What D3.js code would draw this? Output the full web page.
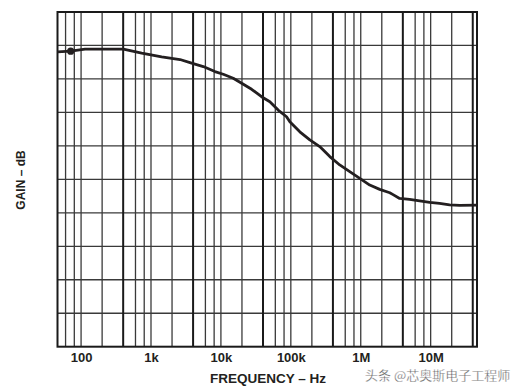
<!DOCTYPE html>
<html><head><meta charset="utf-8">
<script src="https://cdn.jsdelivr.net/npm/d3@7"></script>
<style>
html,body{margin:0;padding:0;background:#fff;}
svg{display:block;}
</style></head>
<body>
<svg id="chart" width="524" height="390"></svg>
<script>
// Frequency (Hz) of each curve point
const freq = [46, 71, 114, 402, 736, 1420, 2600, 3810, 5590, 8210, 10800, 15000, 19800, 27500, 38100, 50100, 65900, 86900, 96800, 134500, 187000, 259000, 361000, 501000, 696000, 968000, 1345000, 1868000, 2600000, 2860000, 3600000, 5000000, 6960000, 9680000, 13400000, 18700000, 26000000, 46000000];
// Gain, in grid divisions (axis has no numeric labels)
const gain = [8.81, 8.83, 8.89, 8.89, 8.77, 8.66, 8.58, 8.47, 8.37, 8.22, 8.14, 8.02, 7.87, 7.69, 7.47, 7.32, 7.07, 6.87, 6.72, 6.42, 6.18, 5.98, 5.68, 5.43, 5.23, 5.03, 4.83, 4.70, 4.60, 4.55, 4.43, 4.40, 4.36, 4.31, 4.28, 4.24, 4.22, 4.23];
// Marker point
const markerFreq = [71];
const markerGain = [8.83];
// Tick labels
const tickValues = [100, 1e3, 1e4, 1e5, 1e6, 1e7];
const tickLabels = ["100", "1k", "10k", "100k", "1M", "10M"];
// Vertical grid lines
const gridFreq = [60, 80, 100, 200, 400, 600, 800, 1e3, 2e3, 4e3, 6e3, 8e3, 1e4, 2e4, 4e4, 6e4, 8e4, 1e5, 2e5, 4e5, 6e5, 8e5, 1e6, 2e6, 4e6, 6e6, 8e6, 1e7, 2e7, 4e7];
const majorGridFreq = [400, 4e3, 4e4, 4e5, 4e6, 4e7];
// Horizontal grid lines (divisions)
const gridGain = [1, 2, 3, 4, 5, 6, 7, 8, 9];

const svg = d3.select("#chart");
const pLeft = 57.5, pRight = 477, pTop = 12, pBottom = 346.7;

const x = d3.scaleLog().domain([46, 4.6e7]).range([pLeft, pRight]);
const y = d3.scaleLinear().domain([0, 10]).range([pBottom, pTop]);

const g = svg.append("g");

// horizontal grid
g.selectAll("line.hg").data(gridGain).join("line")
  .attr("x1", pLeft).attr("x2", pRight)
  .attr("y1", d => y(d)).attr("y2", d => y(d))
  .attr("stroke", "#3a3a3a").attr("stroke-width", 1.3);

// vertical grid
g.selectAll("line.vg").data(gridFreq).join("line")
  .attr("x1", d => x(d)).attr("x2", d => x(d))
  .attr("y1", pTop).attr("y2", pBottom)
  .attr("stroke", d => majorGridFreq.includes(d) ? "#1a1a1a" : "#3a3a3a")
  .attr("stroke-width", d => majorGridFreq.includes(d) ? 2 : 1.3);

// frame
g.append("rect").attr("x", pLeft).attr("y", pTop)
  .attr("width", pRight - pLeft).attr("height", pBottom - pTop)
  .attr("fill", "none").attr("stroke", "#1a1a1a").attr("stroke-width", 2);

// x axis labels
const xAxis = d3.axisBottom(x).tickValues(tickValues)
  .tickFormat((d, i) => tickLabels[i]).tickSize(0).tickPadding(6);
const ax = svg.append("g").attr("transform", `translate(0,${pBottom})`).call(xAxis);
ax.select(".domain").remove();
ax.selectAll("text").attr("font-family", "Liberation Sans, Arial, sans-serif")
  .attr("font-size", 13).attr("font-weight", "bold").attr("fill", "#231f20");

// curve
const pts = freq.map((f, i) => [f, gain[i]]);
svg.append("path").datum(pts)
  .attr("d", d3.line().x(d => x(d[0])).y(d => y(d[1])))
  .attr("fill", "none").attr("stroke", "#231f20").attr("stroke-width", 2.8)
  .attr("stroke-linejoin", "round");

svg.selectAll("circle.m").data(markerFreq).join("circle")
  .attr("cx", d => x(d)).attr("cy", (d, i) => y(markerGain[i]))
  .attr("r", 3.6).attr("fill", "#231f20");

// axis titles
svg.append("text").attr("x", 268).attr("y", 383).attr("text-anchor", "middle")
  .attr("font-family", "Liberation Sans, Arial, sans-serif").attr("font-size", 13.5)
  .attr("font-weight", "bold").attr("fill", "#231f20").text("FREQUENCY – Hz");

svg.append("text").attr("transform", "translate(25,180) rotate(-90)")
  .attr("text-anchor", "middle")
  .attr("font-family", "Liberation Sans, Arial, sans-serif").attr("font-size", 12)
  .attr("font-weight", "bold").attr("fill", "#231f20").text("GAIN – dB");

// watermark
svg.append("text").attr("x", 365).attr("y", 380)
  .attr("font-family", "Noto Sans CJK SC, sans-serif").attr("font-size", 13)
  .attr("fill", "#555").attr("stroke", "#fff").attr("stroke-width", 0.3)
  .text("头条 @芯奥斯电子工程师");
</script>
</body></html>
